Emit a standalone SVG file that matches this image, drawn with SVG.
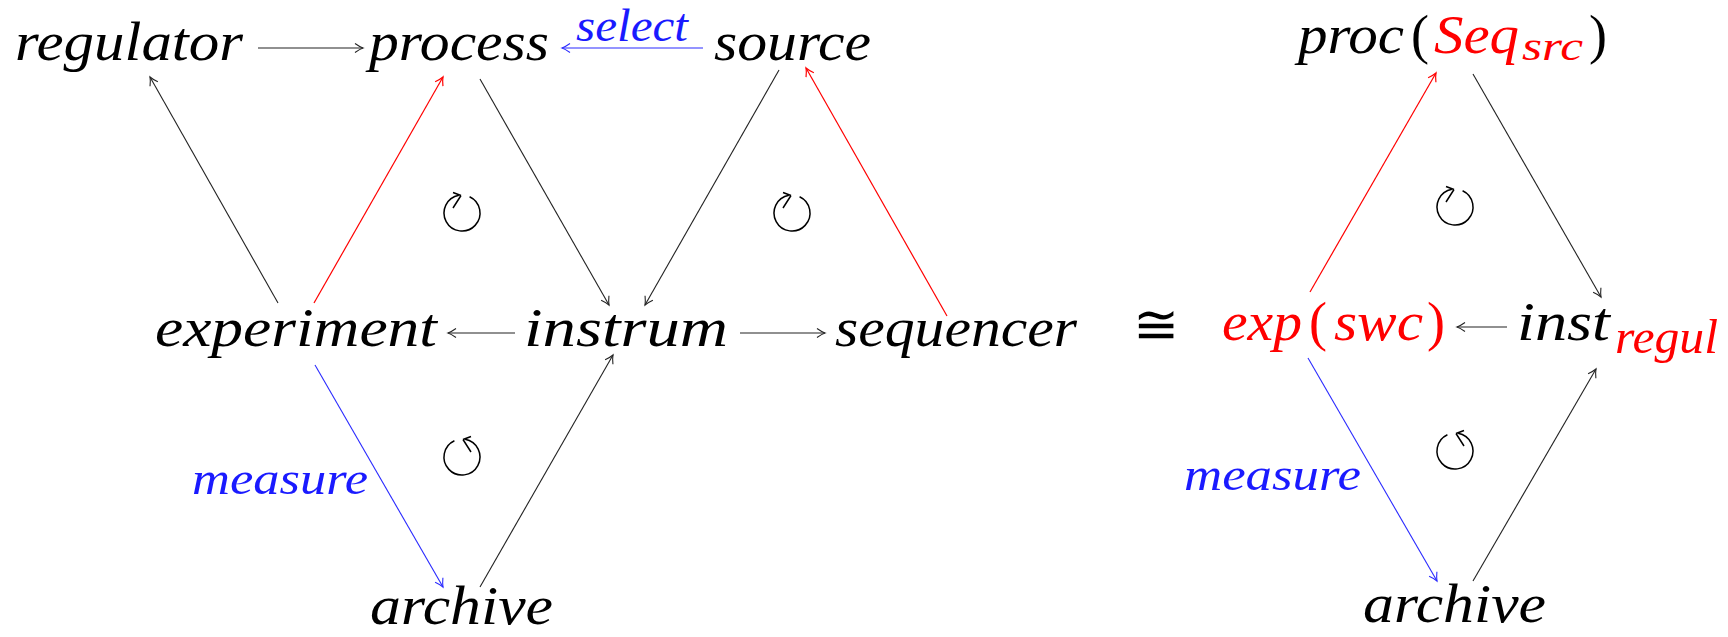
<svg xmlns="http://www.w3.org/2000/svg" width="1728" height="637" viewBox="0 0 1728 637">
<style>
text{font-family:'Liberation Serif','Times New Roman',serif;}
.m{font-style:italic;font-size:54px;fill:#000;}
.lb{font-style:italic;font-size:46px;fill:#1a1aff;}
.r{fill:#ff0000;}
.up{font-style:normal;font-size:54px;}
.sub{font-style:italic;font-size:39px;}
.e{fill:none;stroke:#222;stroke-width:1.1;marker-end:url(#hk);}
.eb{fill:none;stroke:#2a2aff;stroke-width:1.1;marker-end:url(#hb);}
.er{fill:none;stroke:#ff0000;stroke-width:1.2;marker-end:url(#hr);}
.loop{fill:none;stroke:#000;stroke-width:1.5;}
</style>
<defs>
<marker id="hk" markerUnits="userSpaceOnUse" markerWidth="14" markerHeight="14" refX="0" refY="0" viewBox="-10 -7 12 14" orient="auto" overflow="visible">
<path d="M-8,-4.5 Q-3,-1 0,0 Q-3,1 -8,4.5" fill="none" stroke="#222" stroke-width="1.1"/>
</marker>
<marker id="hb" markerUnits="userSpaceOnUse" markerWidth="14" markerHeight="14" refX="0" refY="0" viewBox="-10 -7 12 14" orient="auto" overflow="visible">
<path d="M-8,-4.5 Q-3,-1 0,0 Q-3,1 -8,4.5" fill="none" stroke="#2a2aff" stroke-width="1.1"/>
</marker>
<marker id="hr" markerUnits="userSpaceOnUse" markerWidth="14" markerHeight="14" refX="0" refY="0" viewBox="-10 -7 12 14" orient="auto" overflow="visible">
<path d="M-8,-4.5 Q-3,-1 0,0 Q-3,1 -8,4.5" fill="none" stroke="#ff0000" stroke-width="1.2"/>
</marker>
</defs>

<g id="connectors">
<line class="e" x1="258" y1="48" x2="363" y2="48"/>
<line class="eb" x1="703" y1="48" x2="562" y2="48"/>
<line class="e" x1="278" y1="303" x2="150" y2="77"/>
<line class="er" x1="314" y1="303" x2="443" y2="77"/>
<line class="e" x1="480" y1="79" x2="609" y2="305"/>
<line class="e" x1="779" y1="70" x2="645" y2="305"/>
<line class="er" x1="947" y1="316" x2="806" y2="68"/>
<line class="e" x1="515" y1="333" x2="448" y2="333"/>
<line class="e" x1="740" y1="333" x2="825" y2="333"/>
<line class="eb" x1="315" y1="365" x2="443" y2="587"/>
<line class="e" x1="480" y1="587" x2="613" y2="355"/>
<line class="er" x1="1310" y1="292" x2="1436" y2="73"/>
<line class="e" x1="1473" y1="74" x2="1601" y2="297"/>
<line class="e" x1="1507" y1="327" x2="1457" y2="327"/>
<line class="eb" x1="1308" y1="358" x2="1437" y2="581"/>
<line class="e" x1="1473" y1="581" x2="1596" y2="369"/>
</g>

<g id="loops">
<g id="loop1" transform="translate(462,213)"><path class="loop" d="M7.6,-16.3 A18,18 0 1 1 -3.1,-17.7"/><path class="loop" d="M-9,-5 L-1,-17.5 M-9,-20.5 L-1,-17.5"/></g>
<g id="loop2" transform="translate(792,213)"><path class="loop" d="M7.6,-16.3 A18,18 0 1 1 -3.1,-17.7"/><path class="loop" d="M-9,-5 L-1,-17.5 M-9,-20.5 L-1,-17.5"/></g>
<g id="loop3" transform="translate(462,457)"><path class="loop" d="M-7.6,-16.3 A18,18 0 1 0 3.1,-17.7"/><path class="loop" d="M9,-5 L1,-17.5 M9,-20.5 L1,-17.5"/></g>
<g id="loop4" transform="translate(1455,207)"><path class="loop" d="M7.6,-16.3 A18,18 0 1 1 -3.1,-17.7"/><path class="loop" d="M-9,-5 L-1,-17.5 M-9,-20.5 L-1,-17.5"/></g>
<g id="loop5" transform="translate(1455,451)"><path class="loop" d="M-7.6,-16.3 A18,18 0 1 0 3.1,-17.7"/><path class="loop" d="M9,-5 L1,-17.5 M9,-20.5 L1,-17.5"/></g>
</g>

<g id="regulator"><text class="m" x="15" y="60" textLength="228" lengthAdjust="spacingAndGlyphs">regulator</text></g>
<g id="process"><text class="m" x="369" y="60" textLength="180" lengthAdjust="spacingAndGlyphs">process</text></g>
<g id="source"><text class="m" x="714" y="60" textLength="157" lengthAdjust="spacingAndGlyphs">source</text></g>
<g id="label-select"><text class="lb" x="576" y="41" textLength="112" lengthAdjust="spacingAndGlyphs">select</text></g>
<g id="experiment"><text class="m" x="155" y="346" textLength="282" lengthAdjust="spacingAndGlyphs">experiment</text></g>
<g id="instrum"><text class="m" x="524" y="346" textLength="204" lengthAdjust="spacingAndGlyphs">instrum</text></g>
<g id="sequencer"><text class="m" x="835" y="346" textLength="242" lengthAdjust="spacingAndGlyphs">sequencer</text></g>
<g id="label-measure-left"><text class="lb" x="192" y="494" textLength="176" lengthAdjust="spacingAndGlyphs">measure</text></g>
<g id="archive-left"><text class="m" x="370" y="624" textLength="183" lengthAdjust="spacingAndGlyphs">archive</text></g>

<g id="iso"><text x="1133" y="343" font-family="DejaVu Sans, sans-serif" font-size="54" textLength="46" lengthAdjust="spacingAndGlyphs">≅</text></g>

<g id="proc-seq">
<text class="m" x="1298" y="53" textLength="106" lengthAdjust="spacingAndGlyphs">proc</text>
<text class="up" x="1411" y="53">(</text>
<text class="m r" x="1434" y="53" textLength="85" lengthAdjust="spacingAndGlyphs">Seq</text>
<text class="sub r" x="1522" y="60" textLength="61" lengthAdjust="spacingAndGlyphs">src</text>
<text class="up" x="1589" y="53">)</text>
</g>
<g id="exp-swc">
<text class="m r" x="1222" y="340" textLength="80" lengthAdjust="spacingAndGlyphs">exp</text>
<text class="up r" x="1309" y="340">(</text>
<text class="m r" x="1334" y="340" textLength="89" lengthAdjust="spacingAndGlyphs">swc</text>
<text class="up r" x="1427" y="340">)</text>
</g>
<g id="inst-regul">
<text class="m" x="1517" y="340" textLength="93" lengthAdjust="spacingAndGlyphs">inst</text>
<text class="r" x="1615" y="353" font-style="italic" font-size="48" textLength="103" lengthAdjust="spacingAndGlyphs">regul</text>
</g>
<g id="label-measure-right"><text class="lb" x="1184" y="490" textLength="177" lengthAdjust="spacingAndGlyphs">measure</text></g>
<g id="archive-right"><text class="m" x="1363" y="622" textLength="183" lengthAdjust="spacingAndGlyphs">archive</text></g>
</svg>
